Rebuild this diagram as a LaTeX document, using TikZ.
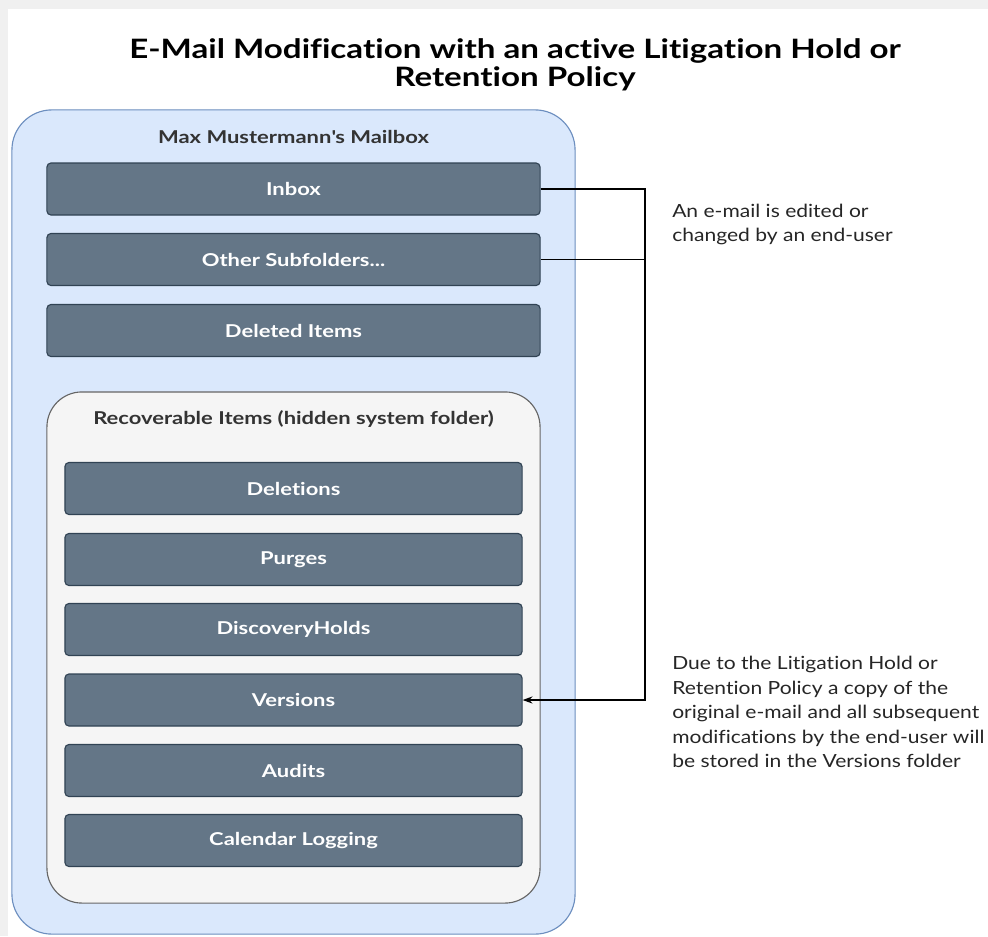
\documentclass[tikz,border=0pt]{standalone}
\usepackage{fontspec}
\setmainfont{Lato}[Ligatures=NoCommon, FakeStretch=1.16, BoldFeatures={FakeStretch=1.24}]
\usepackage{tikz}
\usetikzlibrary{arrows.meta}
\definecolor{mailfill}{HTML}{DAE8FC}
\definecolor{mailline}{HTML}{6C8EBF}
\definecolor{recfill}{HTML}{F5F5F5}
\definecolor{recline}{HTML}{666666}
\definecolor{folderfill}{HTML}{647687}
\definecolor{folderline}{HTML}{314354}
\definecolor{labeltext}{HTML}{333333}
\definecolor{framegray}{HTML}{F0F0F0}
\tikzset{mailbox/.style = {rectangle, rounded corners=1cm, draw=mailline, fill=mailfill,
                           line width=0.8pt, minimum width=14.075cm, minimum height=20.6cm}}
\tikzset{recover/.style = {rectangle, rounded corners=0.875cm, draw=recline, fill=recfill,
                           line width=0.8pt, minimum width=12.325cm, minimum height=12.775cm}}
\tikzset{folder/.style = {rectangle, rounded corners=0.1cm, draw=folderline, fill=folderfill,
                          line width=0.8pt, text=white, font=\bfseries\fontsize{12.6}{15}\selectfont,
                          minimum height=1.3cm}}
\tikzset{topfolder/.style = {folder, minimum width=12.325cm}}
\tikzset{subfolder/.style = {folder, minimum width=11.425cm}}
\tikzset{boxlabel/.style = {text=labeltext, font=\bfseries\fontsize{12.6}{15}\selectfont}}
\tikzset{heading/.style = {anchor=base, inner sep=0pt, font=\bfseries\fontsize{19}{24}\selectfont}}
\tikzset{note/.style = {anchor=west, inner sep=0pt, align=left, text=black!85,
                        font=\fontsize{12.9}{17.4}\selectfont}}
\tikzset{link/.style = {draw=black, line width=0.8pt}}

\begin{document}
\begin{tikzpicture}[x=0.025cm, y=-0.025cm]
        \useasboundingbox (0,0) rectangle (988,936);
        \fill[framegray] (0,0) rectangle (988,936);
        \fill[white] (8,9) rectangle (988,936);

        % title
        \node[heading] (title)     at (515,58) {E-Mail Modification with an active Litigation Hold or};
        \node[heading] (titlecont) at (515,86) {Retention Policy};

        % mailbox
        \node[mailbox] (mailbox) at (293.5,522) {};
        \node[boxlabel] (mailboxlabel) at (293.5,137) {Max Mustermann\textquotesingle s Mailbox};

        \node[topfolder] (inbox)   at (293.5,189)   {Inbox};
        \node[topfolder] (other)   at (293.5,259.5) {Other Subfolders...};
        \node[topfolder] (deleted) at (293.5,330.5) {Deleted Items};

        % recoverable items
        \node[recover] (recover) at (293.5,647.5) {};
        \node[boxlabel] (recoverlabel) at (293.5,419) {Recoverable Items (hidden system folder)};

        \node[subfolder] (deletions) at (293.5,488.5) {Deletions};
        \node[subfolder] (purges)    at (293.5,559.5) {Purges};
        \node[subfolder] (discovery) at (293.5,629.5) {DiscoveryHolds};
        \node[subfolder] (versions)  at (293.5,700)   {Versions};
        \node[subfolder] (audits)    at (293.5,770.5) {Audits};
        \node[subfolder] (calendar)  at (293.5,840.5) {Calendar Logging};

        % connectors
        \coordinate (turn) at (645,189);
        \draw[link, -{Stealth[length=7pt, width=5pt]}] (inbox.east) -- (turn) |- (versions.east);
        \draw[link] (other.east) -- (other.east -| turn);

        % notes
        \node[note] (editnote) at (672,224.5)
            {An e-mail is edited or\\changed by an end-user};
        \node[note] (holdnote) at (672,712)
            {Due to the Litigation Hold or\\Retention Policy a copy of the\\original e-mail and all subsequent\\modifications by the end-user will\\be stored in the Versions folder};
    \end{tikzpicture}
\end{document}
